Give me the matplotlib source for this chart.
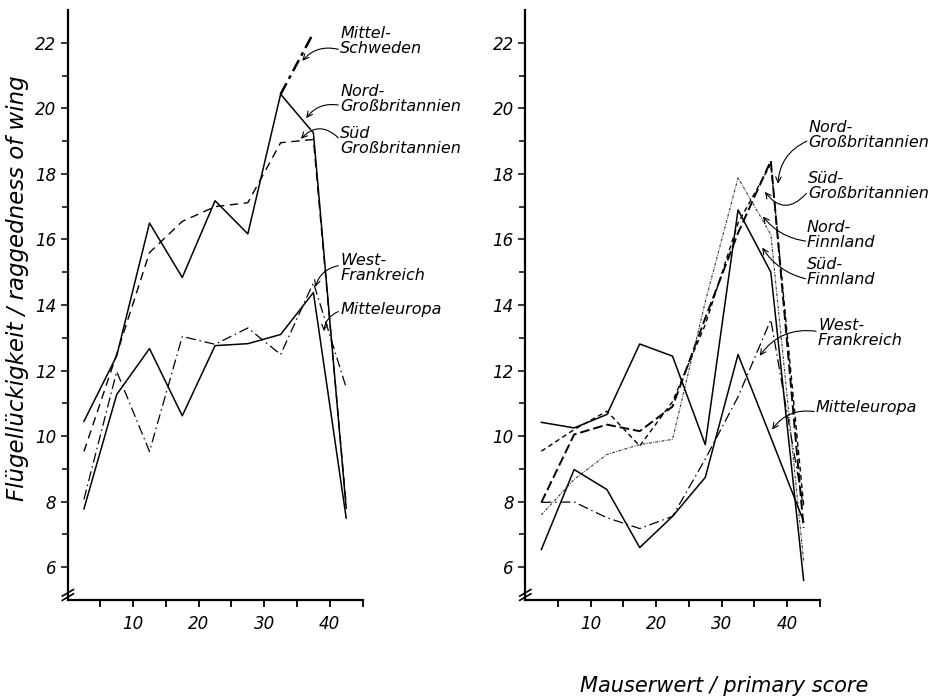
import numpy as np
import matplotlib.pyplot as plt
from matplotlib.ticker import FixedLocator, NullFormatter

plt.rcParams['font.family'] = ['DejaVu Sans']
plt.rcParams['font.style'] = 'italic'

# class midpoints of the primary score
score = [2.5, 7.5, 12.5, 17.5, 22.5, 27.5, 32.5, 37.5, 42.5]
nan = np.nan

# left panel
l_nord_gb = [10.45, 12.45, 16.5, 14.84, 17.18, 16.17, 20.43, 19.25, 7.8]
l_sued_gb = [9.53, 12.5, 15.6, 16.55, 17.0, 17.12, 18.95, 19.05, 7.9]
l_mittel_schweden = [nan, nan, nan, nan, nan, nan, 20.43, 22.3, nan]
l_west_fr = [8.07, 11.97, 9.53, 13.04, 12.8, 13.3, 12.49, 14.68, 11.48]
l_mitteleuropa = [7.78, 11.27, 12.67, 10.62, 12.76, 12.82, 13.1, 14.38, 7.5]

# right panel
r_nord_gb = [7.98, 10.05, 10.35, 10.15, 10.9, 13.6, 16.2, 18.4, 7.2]
r_sued_gb = [9.54, 10.2, 10.76, 9.7, 11.05, 13.4, 16.5, 18.3, 7.9]
r_nord_fi = [7.6, 8.68, 9.44, 9.74, 9.9, 14.1, 17.88, 16.15, 6.2]
r_sued_fi = [10.42, 10.25, 10.66, 12.81, 12.44, 9.74, 16.9, 15.0, 5.6]
r_west_fr = [7.98, 7.99, 7.51, 7.18, 7.55, 9.3, 11.2, 13.55, 7.8]
r_mitteleuropa = [6.54, 8.98, 8.37, 6.6, 7.55, 8.74, 12.49, 9.96, 7.4]

fig = plt.figure(figsize=(9.42, 6.98), dpi=100)
axl = fig.add_axes([0.0717, 0.1404, 0.3132, 0.8453])
axr = fig.add_axes([0.5573, 0.1404, 0.3132, 0.8453])

solid = '-'
dashed = (0, (6, 4))
dashdot = (0, (8, 3, 1.2, 3))
heavy_dashdot = (0, (5, 2, 1.5, 2))
heavy_dashed = (0, (5, 2))
short_dashed = (0, (3.5, 2.5))
fine_dotdash = (0, (2.5, 1.2, 0.8, 1.2))

axl.plot(score, l_nord_gb, ls=solid, lw=1.1, color='k')
axl.plot(score, l_sued_gb, ls=dashed, lw=1.0, color='k')
axl.plot(score, l_mittel_schweden, ls=heavy_dashdot, lw=1.8, color='k')
axl.plot(score, l_west_fr, ls=dashdot, lw=0.9, color='k')
axl.plot(score, l_mitteleuropa, ls=solid, lw=1.1, color='k')

axr.plot(score, r_nord_gb, ls=heavy_dashed, lw=1.4, color='k')
axr.plot(score, r_sued_gb, ls=short_dashed, lw=1.0, color='k')
axr.plot(score, r_nord_fi, ls=fine_dotdash, lw=0.8, color='#333333')
axr.plot(score, r_sued_fi, ls=solid, lw=1.1, color='k')
axr.plot(score, r_west_fr, ls=dashdot, lw=0.9, color='k')
axr.plot(score, r_mitteleuropa, ls=solid, lw=1.1, color='k')

for ax in (axl, axr):
    ax.set_xlim(0, 45)
    ax.set_ylim(5, 23)
    ax.spines['top'].set_visible(False)
    ax.spines['right'].set_visible(False)
    ax.spines['left'].set_linewidth(1.6)
    ax.spines['bottom'].set_linewidth(1.6)
    ax.xaxis.set_major_locator(FixedLocator([10, 20, 30, 40]))
    ax.xaxis.set_minor_locator(FixedLocator([5, 15, 25, 35, 45]))
    ax.yaxis.set_major_locator(FixedLocator(range(6, 23, 2)))
    ax.yaxis.set_minor_locator(FixedLocator(range(7, 22, 2)))
    ax.xaxis.set_minor_formatter(NullFormatter())
    ax.tick_params(axis='x', which='both', direction='out', length=5, width=1.3,
                   labelsize=12, pad=6)
    ax.tick_params(axis='y', which='major', direction='out', length=5, width=1.1,
                   labelsize=12, pad=3)
    ax.tick_params(axis='y', which='minor', direction='out', length=4, width=1.1)
    for lab in ax.get_xticklabels() + ax.get_yticklabels():
        lab.set_fontstyle('italic')
    ax.patch.set_alpha(0)
    # axis break on the y axis
    for dy in (0.0, -0.13):
        ax.plot([-0.8, 0.9], [5.12 + dy, 5.32 + dy], color='k', lw=1.2,
                clip_on=False)


def label(ax, text, xy_text, start, tip, rad=0.3):
    ax.text(xy_text[0], xy_text[1], text, fontsize=11.5, va='top', ha='left',
            linespacing=1.0, fontstyle='italic')
    ax.annotate('', xy=tip, xytext=start, annotation_clip=False,
                arrowprops=dict(arrowstyle='->', lw=0.8, color='k',
                                connectionstyle='arc3,rad=%s' % rad,
                                shrinkA=0, shrinkB=0))


label(axl, 'Mittel-\nSchweden', (41.6, 22.5), (41.3, 21.8), (35.8, 21.45))
label(axl, 'Nord-\nGroßbritannien', (41.6, 20.75), (41.3, 20.1), (36.4, 19.7))
label(axl, 'Süd\nGroßbritannien', (41.6, 19.45), (41.3, 19.1), (35.6, 19.07), rad=0.5)
label(axl, 'West-\nFrankreich', (41.6, 15.6), (41.3, 15.2), (37.8, 14.55))
label(axl, 'Mitteleuropa', (41.6, 14.1), (41.3, 13.8), (39.1, 13.2))

label(axr, 'Nord-\nGroßbritannien', (43.2, 19.65), (43.0, 19.0), (38.6, 17.7))
label(axr, 'Süd-\nGroßbritannien', (43.2, 18.1), (42.9, 17.4), (36.6, 17.45), rad=-0.6)
label(axr, 'Nord-\nFinnland', (43.0, 16.6), (42.8, 15.95), (36.3, 16.7), rad=-0.2)
label(axr, 'Süd-\nFinnland', (43.0, 15.45), (42.8, 14.8), (36.2, 15.75), rad=-0.2)
label(axr, 'West-\nFrankreich', (44.7, 13.6), (44.4, 13.2), (35.8, 12.45))
label(axr, 'Mitteleuropa', (44.3, 11.1), (44.1, 10.75), (37.7, 10.2))

fig.text(0.019, 0.587, 'Flügellückigkeit / raggedness of wing', rotation=90,
         ha='center', va='center', fontsize=16.5, fontstyle='italic')
fig.text(0.769, 0.017, 'Mauserwert / primary score', ha='center', va='center',
         fontsize=15, fontstyle='italic')

fig.savefig('out.png', dpi=100)
